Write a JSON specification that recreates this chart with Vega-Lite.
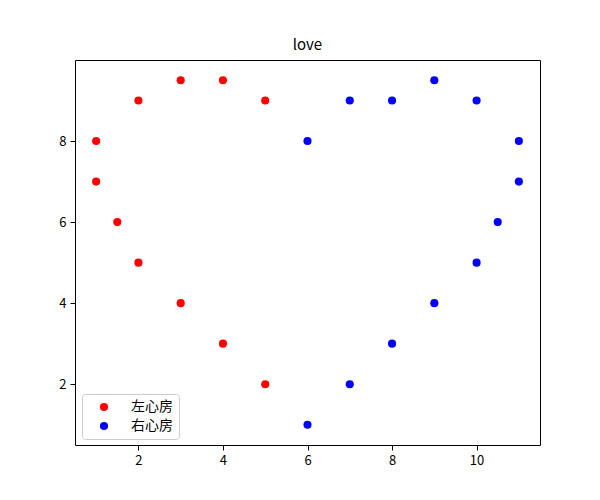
{
  "$schema": "https://vega.github.io/schema/vega-lite/v6.json",
  "width": 465,
  "height": 385,
  "autosize": {"type": "none"},
  "padding": {"left": 75, "top": 60, "right": 60, "bottom": 55},
  "background": "white",
  "title": {"text": "love", "fontSize": 15, "fontWeight": "normal", "font": "Noto Sans CJK SC", "color": "black", "offset": 7},
  "config": {
    "view": {"stroke": "black", "strokeWidth": 1},
    "font": "Noto Sans CJK SC",
    "axis": {"grid": false, "domain": false, "tickColor": "black", "tickSize": 5, "labelColor": "black", "labelFontSize": 13, "labelPadding": 4, "title": null, "labelFont": "Noto Sans CJK SC"}
  },
  "data": {
    "values": [
      {"x": 1, "y": 8, "s": "左心房"},
      {"x": 1, "y": 7, "s": "左心房"},
      {"x": 1.5, "y": 6, "s": "左心房"},
      {"x": 2, "y": 5, "s": "左心房"},
      {"x": 3, "y": 4, "s": "左心房"},
      {"x": 4, "y": 3, "s": "左心房"},
      {"x": 5, "y": 2, "s": "左心房"},
      {"x": 2, "y": 9, "s": "左心房"},
      {"x": 3, "y": 9.5, "s": "左心房"},
      {"x": 4, "y": 9.5, "s": "左心房"},
      {"x": 5, "y": 9, "s": "左心房"},
      {"x": 6, "y": 8, "s": "右心房"},
      {"x": 7, "y": 9, "s": "右心房"},
      {"x": 8, "y": 9, "s": "右心房"},
      {"x": 9, "y": 9.5, "s": "右心房"},
      {"x": 10, "y": 9, "s": "右心房"},
      {"x": 11, "y": 8, "s": "右心房"},
      {"x": 11, "y": 7, "s": "右心房"},
      {"x": 10.5, "y": 6, "s": "右心房"},
      {"x": 10, "y": 5, "s": "右心房"},
      {"x": 9, "y": 4, "s": "右心房"},
      {"x": 8, "y": 3, "s": "右心房"},
      {"x": 7, "y": 2, "s": "右心房"},
      {"x": 6, "y": 1, "s": "右心房"}
    ]
  },
  "mark": {"type": "circle", "size": 66, "opacity": 1},
  "encoding": {
    "x": {"field": "x", "type": "quantitative", "scale": {"domain": [0.5, 11.5], "nice": false, "zero": false}, "axis": {"values": [2, 4, 6, 8, 10]}},
    "y": {"field": "y", "type": "quantitative", "scale": {"domain": [0.5, 10], "nice": false, "zero": false}, "axis": {"values": [2, 4, 6, 8]}},
    "color": {
      "field": "s", "type": "nominal",
      "scale": {"domain": ["左心房", "右心房"], "range": ["#ff0000", "#0000ff"]},
      "legend": {
        "title": null, "orient": "none", "legendX": 7, "legendY": 334,
        "padding": 6, "strokeColor": "#cccccc", "fillColor": "white", "cornerRadius": 3,
        "symbolType": "circle", "symbolSize": 66, "symbolOpacity": 1, "symbolStrokeWidth": 0,
        "symbolOffset": 9, "labelOffset": 20, "labelFontSize": 14, "labelColor": "black", "rowPadding": 5, "labelFont": "Noto Sans CJK SC"
      }
    }
  }
}
